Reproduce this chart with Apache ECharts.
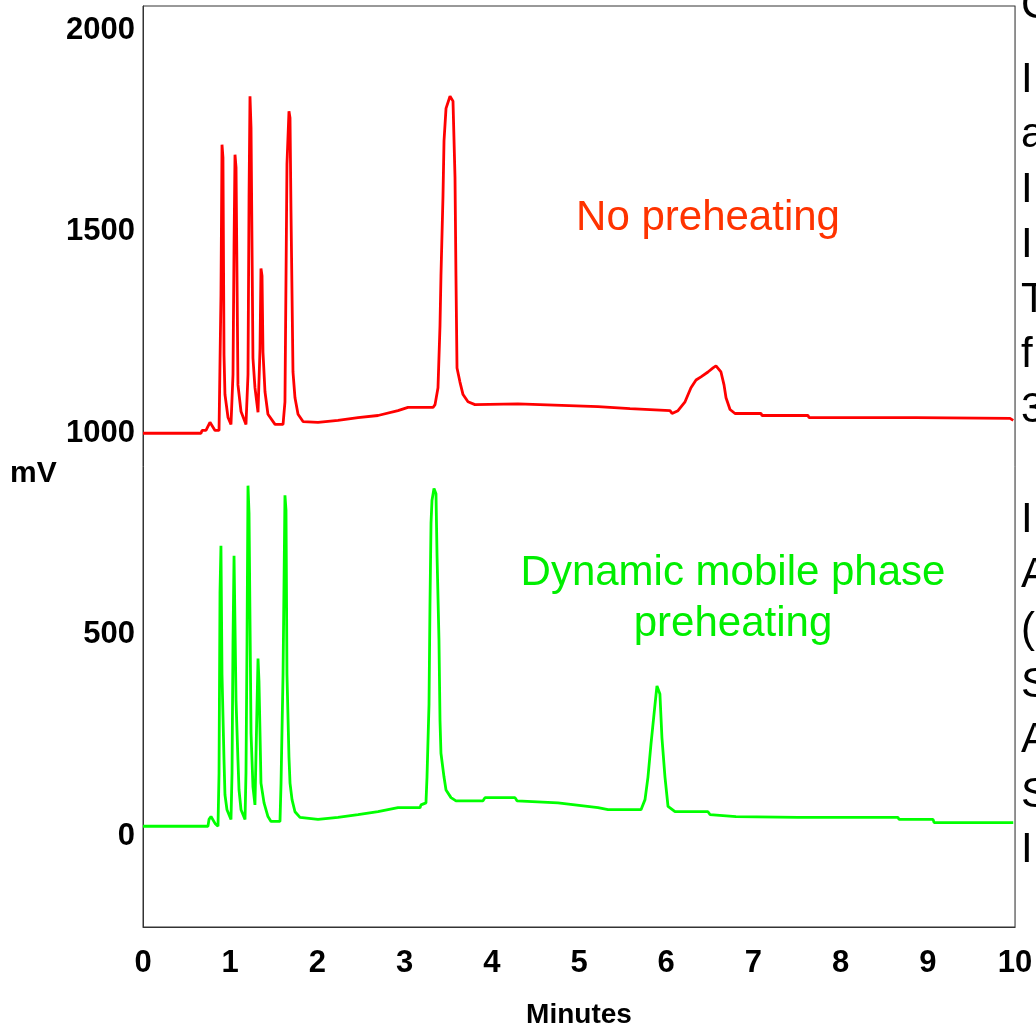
<!DOCTYPE html>
<html>
<head>
<meta charset="utf-8">
<script src="https://cdn.jsdelivr.net/npm/echarts@6/dist/echarts.min.js"></script>
<style>
  html, body { margin: 0; padding: 0; background: #fff; overflow: hidden; }
  #chart { width: 1036px; height: 1034px; }
</style>
</head>
<body>
<div id="chart"></div>
<script>
// retention time (min) and signal (mV)
const timesRed = [0, 0.665, 0.677, 0.722, 0.768, 0.826, 0.872, 0.894, 0.906, 0.917, 0.929, 0.94, 0.975, 1.009,
  1.032, 1.044, 1.055, 1.067, 1.089, 1.124, 1.181, 1.204, 1.216, 1.227, 1.239, 1.261, 1.284, 1.319,
  1.342, 1.353, 1.365, 1.376, 1.399, 1.433, 1.514, 1.606, 1.628, 1.651, 1.674, 1.686, 1.697, 1.72,
  1.743, 1.778, 1.835, 2.007, 2.236, 2.466, 2.695, 2.924, 3.039, 3.326, 3.349, 3.383, 3.406, 3.417,
  3.44, 3.452, 3.475, 3.521, 3.555, 3.578, 3.589, 3.601, 3.635, 3.67, 3.727, 3.807, 4.3, 5.218,
  5.585, 6.044, 6.067, 6.135, 6.216, 6.284, 6.342, 6.399, 6.479, 6.537, 6.571, 6.628, 6.663, 6.686,
  6.732, 6.789, 7.087, 7.099, 7.626, 7.638, 8.865, 8.877, 9.943, 9.98];
const valuesRed = [1000, 1000, 1007, 1007, 1027, 1007, 1007, 1341, 1716, 1684, 1194, 1096, 1039, 1022,
  1145, 1463, 1691, 1659, 1120, 1054, 1022, 1145, 1586, 1836, 1757, 1186, 1113, 1052,
  1211, 1409, 1390, 1201, 1103, 1047, 1022, 1022, 1078, 1667, 1799, 1782, 1554, 1152,
  1088, 1047, 1029, 1027, 1032, 1039, 1044, 1056, 1064, 1064, 1071, 1113, 1267, 1390,
  1586, 1725, 1806, 1836, 1824, 1635, 1390, 1162, 1127, 1096, 1078, 1071, 1073, 1066,
  1061, 1056, 1049, 1056, 1078, 1113, 1132, 1140, 1152, 1162, 1167, 1152, 1120, 1088,
  1059, 1049, 1049, 1044, 1044, 1039, 1039, 1037, 1037, 1032];

const timesGreen = [0, 0.745, 0.757, 0.78, 0.826, 0.86, 0.872, 0.883, 0.894, 0.906, 0.929, 0.94, 0.963, 1.009,
  1.021, 1.032, 1.044, 1.067, 1.089, 1.101, 1.124, 1.17, 1.181, 1.193, 1.204, 1.216, 1.239, 1.261,
  1.284, 1.307, 1.319, 1.33, 1.342, 1.353, 1.388, 1.433, 1.468, 1.571, 1.583, 1.606, 1.628, 1.64,
  1.651, 1.674, 1.686, 1.709, 1.743, 1.8, 2.007, 2.236, 2.466, 2.695, 2.924, 3.177, 3.188, 3.245,
  3.257, 3.28, 3.291, 3.303, 3.314, 3.337, 3.36, 3.372, 3.394, 3.406, 3.417, 3.452, 3.475, 3.532,
  3.589, 3.899, 3.922, 4.266, 4.289, 4.759, 5.218, 5.333, 5.711, 5.757, 5.791, 5.826, 5.872, 5.894,
  5.928, 5.951, 5.986, 6.021, 6.101, 6.479, 6.502, 6.8, 7.511, 8.658, 8.67, 9.06, 9.072, 9.98];
const valuesGreen = [25, 25, 42, 49, 32, 25, 157, 605, 721, 402, 189, 103, 66, 42,
  157, 483, 696, 336, 189, 115, 66, 42, 157, 483, 870, 801, 255, 123,
  78, 319, 441, 385, 255, 132, 83, 49, 37, 37, 132, 402, 846, 809,
  402, 196, 132, 91, 61, 47, 42, 47, 54, 61, 71, 71, 78, 83,
  147, 328, 574, 777, 833, 863, 850, 696, 490, 287, 206, 147, 115, 96,
  88, 88, 96, 96, 88, 83, 71, 66, 66, 91, 147, 230, 328, 373,
  353, 245, 147, 74, 61, 61, 54, 49, 47, 47, 42, 42, 34, 34];

const yTicks = [0, 500, 1000, 1500, 2000];

// letters of the neighbouring paragraph, cut off by the right edge of the picture
const edgeChars = ['C', 'I', 'a', 'I', 'I', 'T', 'f', '3', '', 'I', 'A', '(', 'S', 'A', 'S', 'I'];

const redData = timesRed.map((t, i) => [t, valuesRed[i]]);
const greenData = timesGreen.map((t, i) => [t, valuesGreen[i]]);

const chart = echarts.init(document.getElementById('chart'), null, { renderer: 'canvas' });

const labelFont = {
  fontFamily: 'Liberation Sans, Arial, sans-serif',
  fontWeight: 'bold',
  fontSize: 31,
  color: '#000'
};

const edgeText = edgeChars.map((c, i) => ({
  type: 'text', x: 1021, y: i === 0 ? 6 : 80 + (i - 1) * 55,
  silent: true,
  style: {
    text: c, fill: '#000', fontSize: 42,
    fontFamily: 'Liberation Sans, Arial, sans-serif', align: 'left', verticalAlign: 'middle'
  }
}));

chart.setOption({
  animation: false,
  backgroundColor: '#fff',
  grid: {
    left: 143, right: 21, top: 6, bottom: 95,
    show: true, borderColor: '#333', borderWidth: 1
  },
  xAxis: {
    type: 'value', min: 0, max: 10, interval: 1,
    name: 'Minutes', nameLocation: 'middle', nameGap: 74,
    nameTextStyle: Object.assign({}, labelFont, { fontSize: 28 }),
    axisLine: { show: true, onZero: false, lineStyle: { color: '#333', width: 1 } },
    axisTick: { show: false },
    splitLine: { show: false },
    axisLabel: Object.assign({ margin: 21 }, labelFont)
  },
  yAxis: [{
    type: 'value', min: -225, max: 2060,
    axisLine: { show: true, onZero: false, lineStyle: { color: '#333', width: 1 } },
    axisTick: { show: false },
    splitLine: { show: false },
    axisLabel: Object.assign({ margin: 8, customValues: yTicks, formatter: v => String(v) }, labelFont)
  }, {
    type: 'value', min: -225, max: 2060, position: 'right',
    axisLine: { show: true, onZero: false, lineStyle: { color: '#8a8a8a', width: 1 } },
    axisTick: { show: false },
    splitLine: { show: false },
    axisLabel: { show: false }
  }],
  graphic: [
    { type: 'text', left: 10, top: 459, style: Object.assign({ text: 'mV' }, labelFont, { fontSize: 30 }) },
    { type: 'text', x: 708, y: 218, style: {
      text: 'No preheating', fill: '#ff3300', fontSize: 42,
      fontFamily: 'Liberation Sans, Arial, sans-serif', align: 'center', verticalAlign: 'middle' } },
    { type: 'text', x: 733, y: 650, style: {
      text: 'Dynamic mobile phase\npreheating', fill: '#00ee00', fontSize: 42, lineHeight: 51,
      fontFamily: 'Liberation Sans, Arial, sans-serif', align: 'center', verticalAlign: 'bottom' } }
  ].concat(edgeText),
  series: [
    {
      name: 'No preheating', type: 'line', data: redData, showSymbol: false,
      lineStyle: { color: '#ff0000', width: 2.8 }, itemStyle: { color: '#ff0000' }
    },
    {
      name: 'Dynamic mobile phase preheating', type: 'line', data: greenData, showSymbol: false,
      lineStyle: { color: '#00ff00', width: 2.8 }, itemStyle: { color: '#00ff00' }
    }
  ]
});
</script>
</body>
</html>
